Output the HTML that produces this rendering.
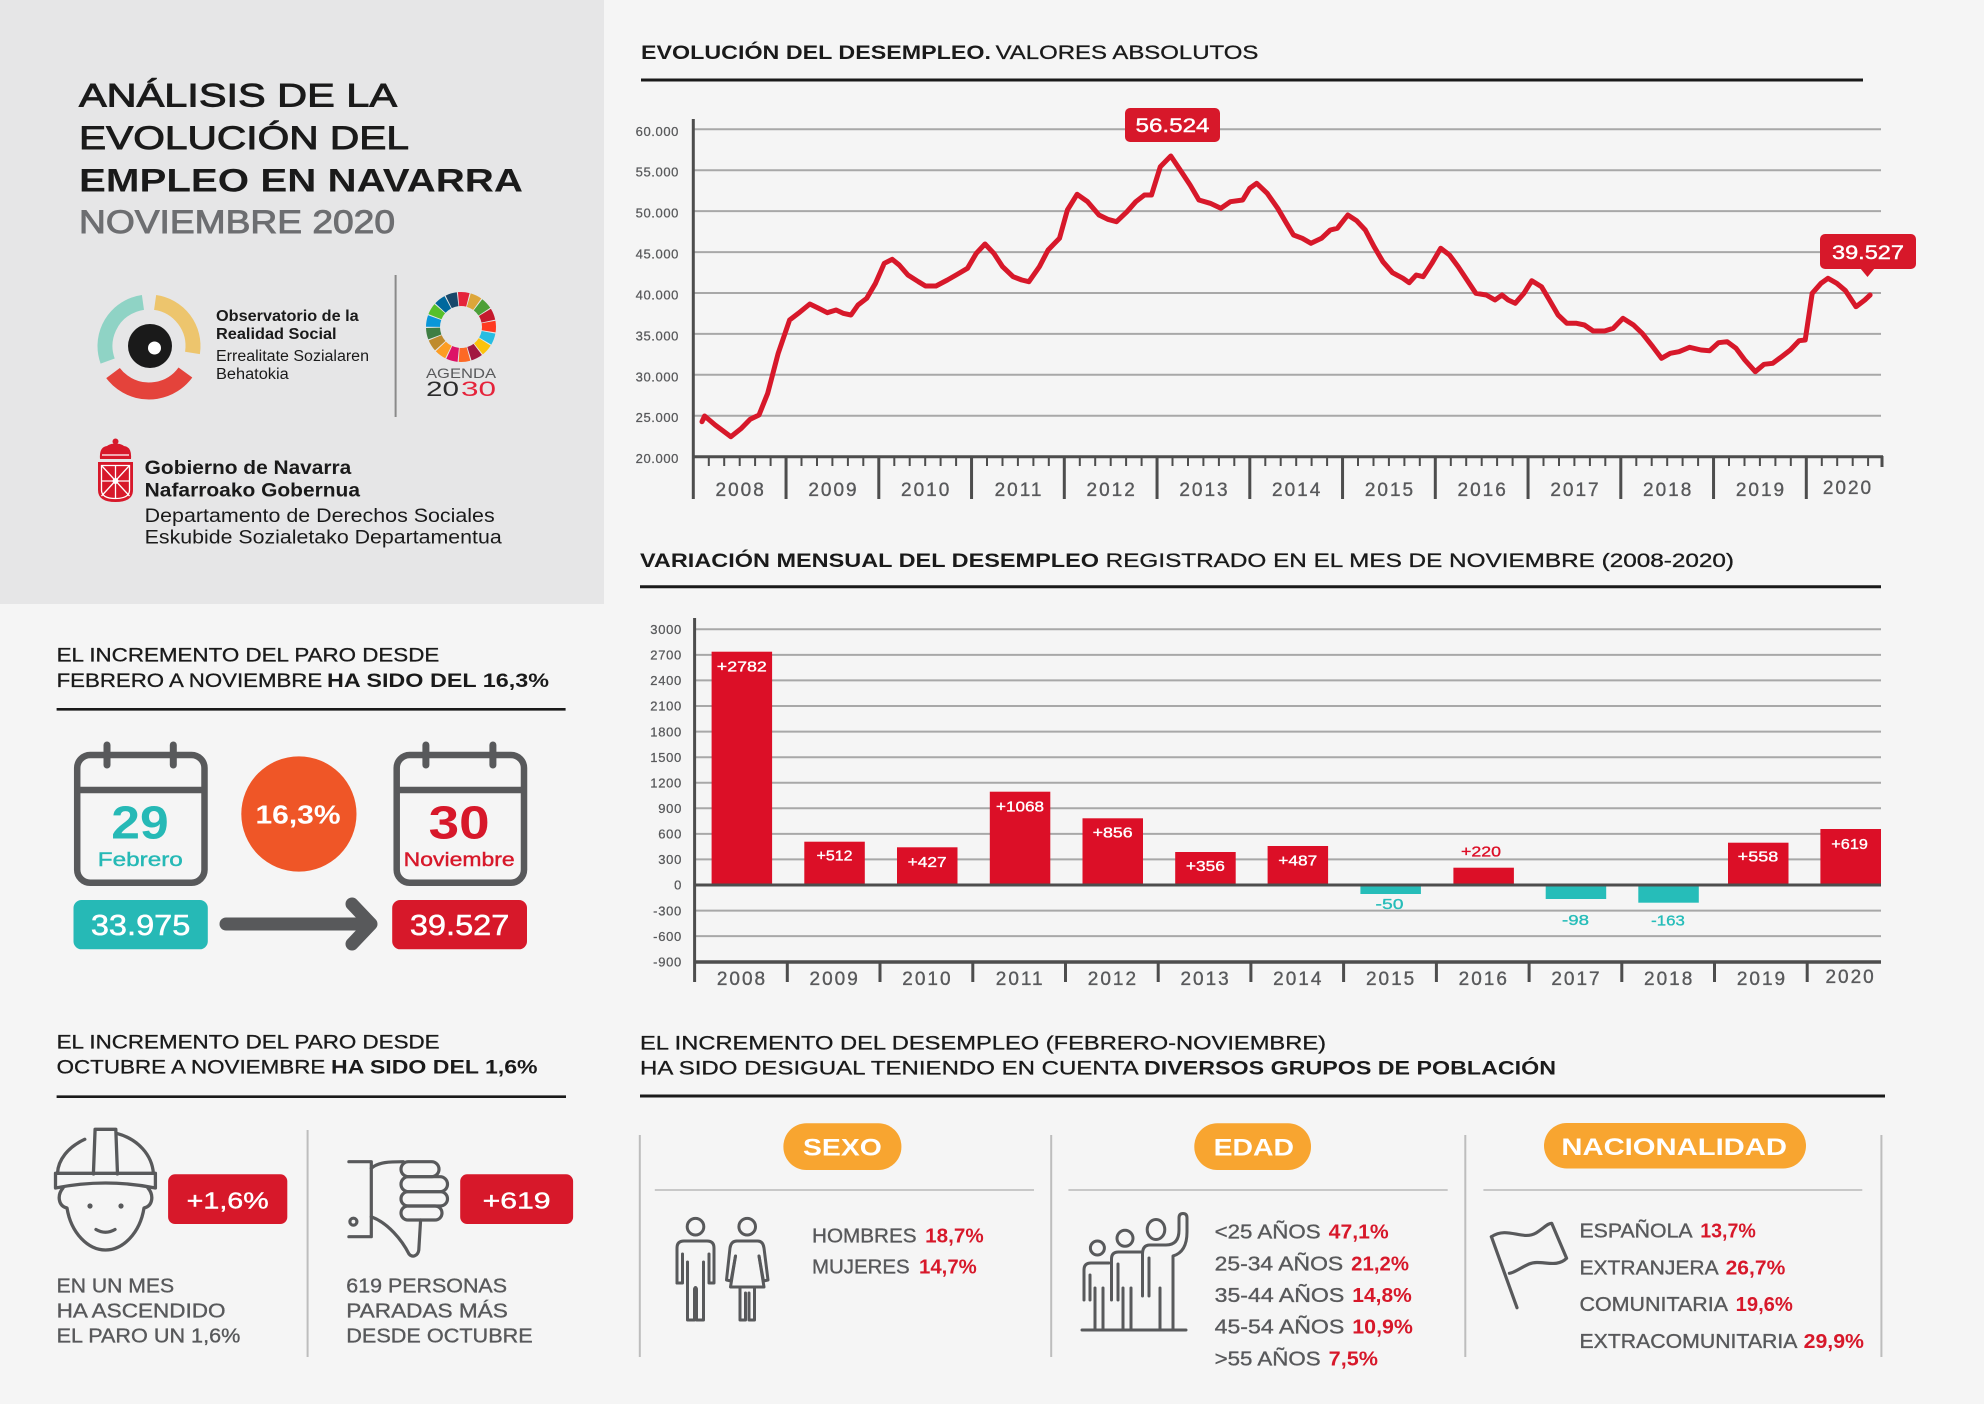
<!DOCTYPE html>
<html><head><meta charset="utf-8">
<style>
html,body{margin:0;padding:0;background:#f5f5f5;}
svg{display:block;font-family:"Liberation Sans",Arial,sans-serif;}
</style></head>
<body>
<svg width="1984" height="1404" viewBox="0 0 1984 1404" xmlns="http://www.w3.org/2000/svg">
<rect x="0" y="0" width="1984" height="1404" fill="#f5f5f5"/>
<rect x="0" y="0" width="604" height="604" fill="#e6e6e7"/>

<!-- HEADER -->
<g fill="#1a1a1a" font-size="32">
<text x="79" y="106.5" stroke="#1a1a1a" stroke-width="0.9" textLength="318" lengthAdjust="spacingAndGlyphs">ANÁLISIS DE LA</text>
<text x="79" y="149" stroke="#1a1a1a" stroke-width="0.9" textLength="330" lengthAdjust="spacingAndGlyphs">EVOLUCIÓN DEL</text>
<text x="79" y="191.5" font-weight="bold" textLength="444" lengthAdjust="spacingAndGlyphs">EMPLEO EN NAVARRA</text>
<text x="79" y="233" fill="#6d6e71" stroke="#6d6e71" stroke-width="0.9" textLength="316" lengthAdjust="spacingAndGlyphs">NOVIEMBRE 2020</text>
</g>

<!-- Observatorio logo -->
<g fill="none" stroke-width="15">
<circle cx="149" cy="346" r="44" stroke="#8fd3c5" stroke-dasharray="78.3 300" transform="rotate(160 149 346)"/>
<circle cx="149" cy="346" r="44" stroke="#edc56d" stroke-dasharray="69.9 300" transform="rotate(278 149 346)"/>
<circle cx="149" cy="346" r="45" stroke="#e4433b" stroke-width="17" stroke-dasharray="84 300" transform="rotate(36 149 346)"/>
</g>
<circle cx="150" cy="346" r="22" fill="#1a1a1a"/>
<circle cx="154.5" cy="348" r="6.5" fill="#fff"/>
<g fill="#1a1a1a" font-size="15.5">
<text x="216" y="321" font-weight="bold" textLength="142.7" lengthAdjust="spacingAndGlyphs">Observatorio de la</text>
<text x="216" y="339" font-weight="bold" textLength="120.6" lengthAdjust="spacingAndGlyphs">Realidad Social</text>
<text x="216" y="361" textLength="153" lengthAdjust="spacingAndGlyphs">Errealitate Sozialaren</text>
<text x="216" y="379" textLength="72.7" lengthAdjust="spacingAndGlyphs">Behatokia</text>
</g>
<line x1="395.6" y1="275" x2="395.6" y2="417" stroke="#8a8a8a" stroke-width="2"/>

<!-- SDG wheel -->
<g fill="none" stroke-width="14">
<circle cx="461" cy="327" r="28" stroke="#E5243B" stroke-dasharray="9.4 167" transform="rotate(-95 461 327)"/>
<circle cx="461" cy="327" r="28" stroke="#DDA63A" stroke-dasharray="9.4 167" transform="rotate(-73.8 461 327)"/>
<circle cx="461" cy="327" r="28" stroke="#4C9F38" stroke-dasharray="9.4 167" transform="rotate(-52.6 461 327)"/>
<circle cx="461" cy="327" r="28" stroke="#C5192D" stroke-dasharray="9.4 167" transform="rotate(-31.4 461 327)"/>
<circle cx="461" cy="327" r="28" stroke="#FF3A21" stroke-dasharray="9.4 167" transform="rotate(-10.3 461 327)"/>
<circle cx="461" cy="327" r="28" stroke="#26BDE2" stroke-dasharray="9.4 167" transform="rotate(10.9 461 327)"/>
<circle cx="461" cy="327" r="28" stroke="#FCC30B" stroke-dasharray="9.4 167" transform="rotate(32.1 461 327)"/>
<circle cx="461" cy="327" r="28" stroke="#A21942" stroke-dasharray="9.4 167" transform="rotate(53.3 461 327)"/>
<circle cx="461" cy="327" r="28" stroke="#FD6925" stroke-dasharray="9.4 167" transform="rotate(74.5 461 327)"/>
<circle cx="461" cy="327" r="28" stroke="#DD1367" stroke-dasharray="9.4 167" transform="rotate(95.6 461 327)"/>
<circle cx="461" cy="327" r="28" stroke="#FD9D24" stroke-dasharray="9.4 167" transform="rotate(116.8 461 327)"/>
<circle cx="461" cy="327" r="28" stroke="#BF8B2E" stroke-dasharray="9.4 167" transform="rotate(138 461 327)"/>
<circle cx="461" cy="327" r="28" stroke="#3F7E44" stroke-dasharray="9.4 167" transform="rotate(159.2 461 327)"/>
<circle cx="461" cy="327" r="28" stroke="#0A97D9" stroke-dasharray="9.4 167" transform="rotate(180.4 461 327)"/>
<circle cx="461" cy="327" r="28" stroke="#56C02B" stroke-dasharray="9.4 167" transform="rotate(201.5 461 327)"/>
<circle cx="461" cy="327" r="28" stroke="#00689D" stroke-dasharray="9.4 167" transform="rotate(222.7 461 327)"/>
<circle cx="461" cy="327" r="28" stroke="#19486A" stroke-dasharray="9.4 167" transform="rotate(243.9 461 327)"/>
</g>
<text x="461" y="378" text-anchor="middle" font-size="14" fill="#58595b" textLength="70" lengthAdjust="spacingAndGlyphs">AGENDA</text>
<text x="426" y="396" font-size="21" fill="#2b2b2b" textLength="33" lengthAdjust="spacingAndGlyphs">20</text>
<text x="461" y="396" font-size="21" fill="#e5243b" textLength="35" lengthAdjust="spacingAndGlyphs">30</text>

<!-- Navarra shield -->
<g fill="#d7182a">
<circle cx="115.5" cy="441.5" r="3"/>
<path d="M100 459 Q99 447 107 446 Q111 443 115.5 444 Q120 443 124 446 Q132 447 131 459 Z"/>
<path d="M98 462 H133 V490 Q133 502 115.5 502 Q98 502 98 490 Z"/>
</g>
<g stroke="#fff" stroke-width="1.3" fill="none">
<path d="M101.5 465.5 H129.5 V490 Q129.5 498.5 115.5 498.5 Q101.5 498.5 101.5 490 Z"/>
<path d="M101.5 465.5 L129.5 496 M129.5 465.5 L101.5 496 M115.5 465.5 V498.5 M101.5 481 H129.5"/>
<path d="M102 455 H129"/>
</g>
<circle cx="115.5" cy="481" r="3" fill="#fff"/>
<g fill="#1a1a1a">
<text x="144.7" y="474" font-size="19" font-weight="bold" textLength="206.6" lengthAdjust="spacingAndGlyphs">Gobierno de Navarra</text>
<text x="144.7" y="496.5" font-size="19" font-weight="bold" textLength="215.3" lengthAdjust="spacingAndGlyphs">Nafarroako Gobernua</text>
<text x="144.7" y="522" font-size="19" textLength="350" lengthAdjust="spacingAndGlyphs">Departamento de Derechos Sociales</text>
<text x="144.7" y="543.5" font-size="19" textLength="357" lengthAdjust="spacingAndGlyphs">Eskubide Sozialetako Departamentua</text>
</g>

<!-- SECTION 2 (Feb-Nov) -->
<g fill="#1a1a1a" font-size="19">
<text x="56.6" y="661.7" stroke="#1a1a1a" stroke-width="0.3" textLength="382.7" lengthAdjust="spacingAndGlyphs">EL INCREMENTO DEL PARO DESDE</text>
<text x="56.6" y="687" stroke="#1a1a1a" stroke-width="0.3" textLength="265.6" lengthAdjust="spacingAndGlyphs">FEBRERO A NOVIEMBRE</text>
<text x="327" y="687" font-weight="bold" textLength="222" lengthAdjust="spacingAndGlyphs">HA SIDO DEL 16,3%</text>
</g>
<line x1="56.6" y1="709.3" x2="565.6" y2="709.3" stroke="#1a1a1a" stroke-width="2.7"/>

<g fill="none" stroke="#58595b" stroke-width="6.5">
<rect x="77.2" y="755" width="127.3" height="127.7" rx="13"/>
<line x1="77.2" y1="790" x2="204.5" y2="790"/>
<rect x="396.7" y="755" width="127.3" height="127.7" rx="13"/>
<line x1="396.7" y1="790" x2="524" y2="790"/>
</g>
<g stroke="#58595b" stroke-width="7" stroke-linecap="round">
<line x1="107" y1="745" x2="107" y2="765"/>
<line x1="173.3" y1="745" x2="173.3" y2="765"/>
<line x1="425.9" y1="745" x2="425.9" y2="765"/>
<line x1="492.9" y1="745" x2="492.9" y2="765"/>
</g>
<text x="140" y="838.3" text-anchor="middle" font-size="46" font-weight="bold" fill="#26b9b6" textLength="57.4" lengthAdjust="spacingAndGlyphs">29</text>
<text x="140.3" y="866" text-anchor="middle" font-size="19" fill="#26b9b6" stroke="#26b9b6" stroke-width="0.4" textLength="85" lengthAdjust="spacingAndGlyphs">Febrero</text>
<text x="459.2" y="838.3" text-anchor="middle" font-size="46" font-weight="bold" fill="#d7182a" textLength="61" lengthAdjust="spacingAndGlyphs">30</text>
<text x="459.2" y="866" text-anchor="middle" font-size="19" fill="#d7182a" stroke="#d7182a" stroke-width="0.4" textLength="111" lengthAdjust="spacingAndGlyphs">Noviembre</text>
<circle cx="298.9" cy="814" r="57.6" fill="#ef5627"/>
<text x="298" y="823.3" text-anchor="middle" font-size="26" font-weight="bold" fill="#fff" textLength="85" lengthAdjust="spacingAndGlyphs">16,3%</text>
<rect x="73.5" y="900" width="134.3" height="49.3" rx="8" fill="#26b9b6"/>
<text x="140.6" y="935" text-anchor="middle" font-size="29" fill="#fff" stroke="#fff" stroke-width="0.5" textLength="99.5" lengthAdjust="spacingAndGlyphs">33.975</text>
<rect x="392.2" y="900" width="134.8" height="49.3" rx="8" fill="#d7182a"/>
<text x="459.6" y="935" text-anchor="middle" font-size="29" fill="#fff" stroke="#fff" stroke-width="0.5" textLength="99.5" lengthAdjust="spacingAndGlyphs">39.527</text>
<g stroke="#58595b" stroke-width="13" stroke-linecap="round" stroke-linejoin="round" fill="none">
<line x1="226" y1="924" x2="366" y2="924"/>
<polyline points="352,904 371,924 352,944"/>
</g>

<!-- SECTION 3 (Oct-Nov) -->
<g fill="#1a1a1a" font-size="19">
<text x="56.6" y="1048.3" stroke="#1a1a1a" stroke-width="0.3" textLength="383" lengthAdjust="spacingAndGlyphs">EL INCREMENTO DEL PARO DESDE</text>
<text x="56.6" y="1073.3" stroke="#1a1a1a" stroke-width="0.3" textLength="268.7" lengthAdjust="spacingAndGlyphs">OCTUBRE A NOVIEMBRE</text>
<text x="331" y="1073.3" font-weight="bold" textLength="206.6" lengthAdjust="spacingAndGlyphs">HA SIDO DEL 1,6%</text>
</g>
<line x1="56.6" y1="1096.7" x2="566" y2="1096.7" stroke="#1a1a1a" stroke-width="2.7"/>
<line x1="307.6" y1="1130" x2="307.6" y2="1357" stroke="#bdbdbd" stroke-width="2"/>

<!-- helmet -->
<g fill="none" stroke="#58595b" stroke-width="3.3" stroke-linejoin="round" stroke-linecap="round">
<path d="M93.4 1174 L95.1 1129.3 L115.8 1129.3 L117.5 1174"/>
<path d="M84.8 1139.3 C68 1147 58 1160 57.5 1173.3"/>
<path d="M116.5 1133.3 C138 1139 152 1155 153.4 1173.3"/>
<path d="M55.5 1173.3 H155.4 V1188 Q105.5 1178 55.5 1188 Z"/>
<path d="M63 1188 C57 1195 58 1206 67 1208 C71 1233 88 1250 105.5 1250 C123 1250 140 1233 144 1208 C153 1206 154 1195 148 1188"/>
<path d="M96 1229.5 Q105.5 1235 115 1229.5"/>
</g>
<circle cx="90" cy="1206" r="2.6" fill="#58595b"/>
<circle cx="121" cy="1206" r="2.6" fill="#58595b"/>
<rect x="168.1" y="1174.3" width="119.2" height="49.7" rx="7" fill="#d7182a"/>
<text x="227.7" y="1208.3" text-anchor="middle" font-size="23" fill="#fff" stroke="#fff" stroke-width="0.4" textLength="82" lengthAdjust="spacingAndGlyphs">+1,6%</text>

<!-- thumbs down -->
<g fill="none" stroke="#58595b" stroke-width="3.2" stroke-linejoin="round" stroke-linecap="round">
<path d="M348.9 1161.7 H371.3 V1236.7 H348.9"/>
<circle cx="353.4" cy="1221.7" r="3.5"/>
<path d="M371.3 1168.3 C378 1162 390 1161.7 403.3 1161.7"/>
<rect x="401" y="1161.7" width="38" height="15" rx="7.5"/>
<rect x="401" y="1176.7" width="46.5" height="15" rx="7.5"/>
<rect x="401" y="1191.7" width="46.5" height="14.3" rx="7.2"/>
<rect x="401" y="1206" width="41" height="14" rx="7"/>
<path d="M371.3 1216.7 C388 1223 402 1240 409 1254 C412 1258 418 1256 418.8 1250 L420.6 1220"/>
</g>
<rect x="460.2" y="1174.3" width="112.9" height="49.7" rx="7" fill="#d7182a"/>
<text x="516.6" y="1208.3" text-anchor="middle" font-size="23" fill="#fff" stroke="#fff" stroke-width="0.4" textLength="68" lengthAdjust="spacingAndGlyphs">+619</text>

<g fill="#58595b" font-size="20" stroke="#58595b" stroke-width="0.35">
<text x="56.6" y="1292.7" textLength="117.5" lengthAdjust="spacingAndGlyphs">EN UN MES</text>
<text x="56.6" y="1317.7" textLength="169" lengthAdjust="spacingAndGlyphs">HA ASCENDIDO</text>
<text x="56.6" y="1342.7" textLength="183.7" lengthAdjust="spacingAndGlyphs">EL PARO UN 1,6%</text>
<text x="346.3" y="1292.7" textLength="160.7" lengthAdjust="spacingAndGlyphs">619 PERSONAS</text>
<text x="346.3" y="1317.7" textLength="161.5" lengthAdjust="spacingAndGlyphs">PARADAS MÁS</text>
<text x="346.3" y="1342.7" textLength="186.4" lengthAdjust="spacingAndGlyphs">DESDE OCTUBRE</text>
</g>

<!-- CHART 1 -->
<text x="641" y="59" font-size="19" font-weight="bold" fill="#1a1a1a" textLength="350" lengthAdjust="spacingAndGlyphs">EVOLUCIÓN DEL DESEMPLEO.</text>
<text x="995.6" y="59" font-size="19" fill="#1a1a1a" stroke="#1a1a1a" stroke-width="0.3" textLength="262.8" lengthAdjust="spacingAndGlyphs">VALORES ABSOLUTOS</text>
<line x1="641" y1="80" x2="1863" y2="80" stroke="#1a1a1a" stroke-width="3"/>

<g stroke="#a8a8a8" stroke-width="2">
<line x1="693" y1="129.3" x2="1881" y2="129.3"/>
<line x1="693" y1="170.2" x2="1881" y2="170.2"/>
<line x1="693" y1="211.1" x2="1881" y2="211.1"/>
<line x1="693" y1="252.1" x2="1881" y2="252.1"/>
<line x1="693" y1="293" x2="1881" y2="293"/>
<line x1="693" y1="333.9" x2="1881" y2="333.9"/>
<line x1="693" y1="374.8" x2="1881" y2="374.8"/>
<line x1="693" y1="415.7" x2="1881" y2="415.7"/>
</g>
<g font-size="13" fill="#58595b" text-anchor="end" letter-spacing="0.6" stroke="#58595b" stroke-width="0.25">
<text x="679" y="135.8">60.000</text>
<text x="679" y="176.7">55.000</text>
<text x="679" y="217.6">50.000</text>
<text x="679" y="258.6">45.000</text>
<text x="679" y="299.5">40.000</text>
<text x="679" y="340.4">35.000</text>
<text x="679" y="381.3">30.000</text>
<text x="679" y="422.2">25.000</text>
<text x="679" y="463.2">20.000</text>
</g>
<line x1="693.3" y1="119" x2="693.3" y2="499" stroke="#4d4d4d" stroke-width="3"/>
<line x1="692" y1="456.7" x2="1883" y2="456.7" stroke="#4d4d4d" stroke-width="3"/>
<path stroke="#4d4d4d" stroke-width="2" d="M708.8 458V466M724.2 458V466M739.7 458V466M755.1 458V466M770.6 458V466M801.5 458V466M817 458V466M832.4 458V466M847.9 458V466M863.3 458V466M894.3 458V466M909.7 458V466M925.2 458V466M940.6 458V466M956.1 458V466M987 458V466M1002.5 458V466M1017.9 458V466M1033.4 458V466M1048.8 458V466M1079.8 458V466M1095.2 458V466M1110.7 458V466M1126.1 458V466M1141.6 458V466M1172.5 458V466M1188 458V466M1203.4 458V466M1218.9 458V466M1234.3 458V466M1265.3 458V466M1280.7 458V466M1296.2 458V466M1311.6 458V466M1327.1 458V466M1358 458V466M1373.5 458V466M1388.9 458V466M1404.4 458V466M1419.8 458V466M1450.8 458V466M1466.2 458V466M1481.7 458V466M1497.1 458V466M1512.6 458V466M1543.5 458V466M1559 458V466M1574.4 458V466M1589.9 458V466M1605.3 458V466M1636.3 458V466M1651.7 458V466M1667.2 458V466M1682.6 458V466M1698.1 458V466M1729 458V466M1744.5 458V466M1759.9 458V466M1775.4 458V466M1790.8 458V466M1821.8 458V466M1837.2 458V466M1852.7 458V466M1868.1 458V466"/>
<path stroke="#4d4d4d" stroke-width="3" d="M786.05 456V499M878.8 456V499M971.55 456V499M1064.3 456V499M1157.05 456V499M1249.8 456V499M1342.55 456V499M1435.3 456V499M1528.05 456V499M1620.8 456V499M1713.55 456V499M1806.3 456V499M1882 456V467"/>
<g font-size="19" fill="#58595b" text-anchor="middle" letter-spacing="2" stroke="#58595b" stroke-width="0.35">
<text x="740.7" y="496">2008</text>
<text x="833.5" y="496">2009</text>
<text x="926.2" y="496">2010</text>
<text x="1019" y="496">2011</text>
<text x="1111.7" y="496">2012</text>
<text x="1204.5" y="496">2013</text>
<text x="1297.2" y="496">2014</text>
<text x="1390" y="496">2015</text>
<text x="1482.7" y="496">2016</text>
<text x="1575.5" y="496">2017</text>
<text x="1668.2" y="496">2018</text>
<text x="1761" y="496">2019</text>
<text x="1848" y="494">2020</text>
</g>
<polyline fill="none" stroke="#d7182a" stroke-width="5" stroke-linejoin="round" stroke-linecap="round" points="702,421.7 704.6,416 715.2,425 730.9,436.7 741.4,428.3 750.2,419.3 759,415 767.7,393.3 778.2,353.3 789.6,320 798.4,313.3 809.8,304 818.6,308.3 827.3,312.7 836.1,310 843.1,313.3 851,315 858,305 866.7,298.3 875.5,283.3 884.3,263.3 892.2,259.3 899.2,265 907.9,275 918.4,281.7 925.5,286 936,286 947.4,280 956.1,275 967.5,268.3 976.3,253.3 985,244 993.8,253.3 1002.6,266.7 1013.1,276.7 1021.8,280 1028.9,281.7 1039.4,266.7 1048.1,250 1059.5,238.3 1067.4,210 1077.1,194.3 1087.6,201.7 1099,215 1107.7,219.3 1116.5,221.7 1127,211.7 1135.8,201.7 1144.5,195 1151.5,195 1160.3,166.7 1170.8,156 1181.3,171.7 1190.1,185 1198.9,200 1210.2,203.3 1220.8,208.3 1230.4,201.7 1242.7,200 1249.7,188.3 1256.7,183.3 1267.2,193.3 1277.7,208.3 1286.5,223.3 1293.5,235 1302.3,238.3 1311,243.3 1321.5,238.3 1330.3,230 1337.3,228.3 1347.8,215 1356.6,220.7 1365.3,230 1374.1,246.7 1382.9,261.7 1392.5,272.7 1403,278.3 1409.2,282.7 1416.2,275 1423.2,276.7 1431.9,263.3 1440.7,248.3 1449.5,255 1458.2,266.7 1467,280 1475.8,293.3 1486.3,295 1495,300 1502,295 1508.2,300 1515.2,303.3 1523.9,293.3 1531.8,280.7 1541.5,286.7 1549.4,300 1558.1,315 1566.9,323.3 1576.5,323.3 1584.4,325 1593.2,331 1604.6,331 1613.3,328.3 1623,318.3 1633.5,325 1642.2,333.3 1652.8,346.7 1661.5,358.3 1670.3,353.3 1679,351.7 1689.6,347.3 1701,350 1709.7,350.7 1718.5,342.7 1727.2,341.7 1736,348.3 1744.8,360 1755.3,371.7 1764,364.3 1772.8,363.3 1781.6,356.7 1790.3,350 1799.1,340.7 1805.2,340 1812.2,293.3 1821,283.3 1828,278.3 1836.8,283.3 1845.5,290.7 1856,306.7 1864.8,300 1870.1,295"/>
<rect x="1125" y="108" width="95" height="34" rx="5" fill="#d7182a"/>
<text x="1172.5" y="132" text-anchor="middle" font-size="19" fill="#fff" stroke="#fff" stroke-width="0.4" textLength="74" lengthAdjust="spacingAndGlyphs">56.524</text>
<rect x="1820" y="234" width="96" height="35" rx="5" fill="#d7182a"/>
<polygon points="1860,268 1875,268 1867.5,277" fill="#d7182a"/>
<text x="1868" y="259" text-anchor="middle" font-size="19" fill="#fff" stroke="#fff" stroke-width="0.4" textLength="72" lengthAdjust="spacingAndGlyphs">39.527</text>

<!-- CHART 2 -->
<text x="640" y="567" font-size="19" font-weight="bold" fill="#1a1a1a" textLength="459" lengthAdjust="spacingAndGlyphs">VARIACIÓN MENSUAL DEL DESEMPLEO</text>
<text x="1105.7" y="567" font-size="19" fill="#1a1a1a" stroke="#1a1a1a" stroke-width="0.3" textLength="628.3" lengthAdjust="spacingAndGlyphs">REGISTRADO EN EL MES DE NOVIEMBRE (2008-2020)</text>
<line x1="640" y1="586.7" x2="1881" y2="586.7" stroke="#1a1a1a" stroke-width="3"/>
<g stroke="#a8a8a8" stroke-width="2">
<line x1="694" y1="629.3" x2="1881" y2="629.3"/>
<line x1="694" y1="654.9" x2="1881" y2="654.9"/>
<line x1="694" y1="680.4" x2="1881" y2="680.4"/>
<line x1="694" y1="706" x2="1881" y2="706"/>
<line x1="694" y1="731.6" x2="1881" y2="731.6"/>
<line x1="694" y1="757.2" x2="1881" y2="757.2"/>
<line x1="694" y1="782.7" x2="1881" y2="782.7"/>
<line x1="694" y1="808.3" x2="1881" y2="808.3"/>
<line x1="694" y1="833.9" x2="1881" y2="833.9"/>
<line x1="694" y1="859.4" x2="1881" y2="859.4"/>
<line x1="694" y1="910.6" x2="1881" y2="910.6"/>
<line x1="694" y1="936.1" x2="1881" y2="936.1"/>
</g>
<g font-size="13" fill="#58595b" text-anchor="end" letter-spacing="0.7" stroke="#58595b" stroke-width="0.25">
<text x="682" y="634">3000</text>
<text x="682" y="659.6">2700</text>
<text x="682" y="685.1">2400</text>
<text x="682" y="710.7">2100</text>
<text x="682" y="736.3">1800</text>
<text x="682" y="761.9">1500</text>
<text x="682" y="787.4">1200</text>
<text x="682" y="813">900</text>
<text x="682" y="838.6">600</text>
<text x="682" y="864.1">300</text>
<text x="682" y="889.7">0</text>
<text x="682" y="915.3">-300</text>
<text x="682" y="940.8">-600</text>
<text x="682" y="966.4">-900</text>
</g>
<!-- bars -->
<g fill="#dc0f27">
<rect x="711.6" y="651.7" width="60.5" height="233.3"/>
<rect x="804.3" y="841.7" width="60.5" height="43.3"/>
<rect x="897" y="847.3" width="60.5" height="37.7"/>
<rect x="989.8" y="791.7" width="60.5" height="93.3"/>
<rect x="1082.5" y="818.3" width="60.5" height="66.7"/>
<rect x="1175.2" y="852" width="60.5" height="33"/>
<rect x="1267.6" y="846" width="60.5" height="39"/>
<rect x="1453.4" y="867.7" width="60.5" height="17.3"/>
<rect x="1728" y="842.7" width="60.5" height="42.3"/>
<rect x="1820.4" y="829" width="60.6" height="56"/>
</g>
<g fill="#26bdb9">
<rect x="1360.4" y="885" width="60.5" height="9"/>
<rect x="1545.7" y="885" width="60.5" height="14"/>
<rect x="1638.3" y="885" width="60.5" height="17.7"/>
</g>
<line x1="694" y1="885" x2="1881" y2="885" stroke="#4d4d4d" stroke-width="3"/>
<line x1="694" y1="962" x2="1881" y2="962" stroke="#4d4d4d" stroke-width="3.5"/>
<line x1="694.6" y1="618" x2="694.6" y2="982" stroke="#4d4d4d" stroke-width="3"/>
<path stroke="#4d4d4d" stroke-width="3" d="M787.3 962V982M880 962V982M972.8 962V982M1065.5 962V982M1158.2 962V982M1250.9 962V982M1343.6 962V982M1436.4 962V982M1529.1 962V982M1621.8 962V982M1714.5 962V982M1807.2 962V982"/>
<g font-size="15" fill="#fff" text-anchor="middle" stroke="#fff" stroke-width="0.35">
<text x="741.8" y="671.7" textLength="50" lengthAdjust="spacingAndGlyphs">+2782</text>
<text x="834.5" y="860.5" textLength="36" lengthAdjust="spacingAndGlyphs">+512</text>
<text x="927.2" y="867" textLength="39" lengthAdjust="spacingAndGlyphs">+427</text>
<text x="1020" y="811.7" textLength="48" lengthAdjust="spacingAndGlyphs">+1068</text>
<text x="1112.7" y="837.7" textLength="40" lengthAdjust="spacingAndGlyphs">+856</text>
<text x="1205.4" y="871" textLength="39" lengthAdjust="spacingAndGlyphs">+356</text>
<text x="1297.8" y="865.7" textLength="39" lengthAdjust="spacingAndGlyphs">+487</text>
<text x="1758" y="861.7" textLength="40.6" lengthAdjust="spacingAndGlyphs">+558</text>
<text x="1849.6" y="849" textLength="36.6" lengthAdjust="spacingAndGlyphs">+619</text>
</g>
<text x="1481" y="856.7" text-anchor="middle" font-size="15" fill="#dc0f27" stroke="#dc0f27" stroke-width="0.35" textLength="40" lengthAdjust="spacingAndGlyphs">+220</text>
<g font-size="15" fill="#26bdb9" text-anchor="middle" stroke="#26bdb9" stroke-width="0.35">
<text x="1389.5" y="909" textLength="28" lengthAdjust="spacingAndGlyphs">-50</text>
<text x="1575.5" y="925" textLength="27" lengthAdjust="spacingAndGlyphs">-98</text>
<text x="1668" y="925.7" textLength="33.6" lengthAdjust="spacingAndGlyphs">-163</text>
</g>
<g font-size="19" fill="#58595b" text-anchor="middle" letter-spacing="2" stroke="#58595b" stroke-width="0.35">
<text x="742" y="985">2008</text>
<text x="834.7" y="985">2009</text>
<text x="927.4" y="985">2010</text>
<text x="1020.2" y="985">2011</text>
<text x="1112.9" y="985">2012</text>
<text x="1205.6" y="985">2013</text>
<text x="1298.3" y="985">2014</text>
<text x="1391.1" y="985">2015</text>
<text x="1483.8" y="985">2016</text>
<text x="1576.5" y="985">2017</text>
<text x="1669.2" y="985">2018</text>
<text x="1762" y="985">2019</text>
<text x="1850.6" y="983">2020</text>
</g>

<!-- BOTTOM RIGHT -->
<g fill="#1a1a1a" font-size="19">
<text x="640" y="1049.3" stroke="#1a1a1a" stroke-width="0.3" textLength="686" lengthAdjust="spacingAndGlyphs">EL INCREMENTO DEL DESEMPLEO (FEBRERO-NOVIEMBRE)</text>
<text x="640" y="1074.3" stroke="#1a1a1a" stroke-width="0.3" textLength="498.6" lengthAdjust="spacingAndGlyphs">HA SIDO DESIGUAL TENIENDO EN CUENTA</text>
<text x="1144" y="1074.3" font-weight="bold" textLength="412" lengthAdjust="spacingAndGlyphs">DIVERSOS GRUPOS DE POBLACIÓN</text>
</g>
<line x1="640" y1="1096" x2="1885" y2="1096" stroke="#1a1a1a" stroke-width="3"/>
<g stroke="#bdbdbd" stroke-width="2">
<line x1="639.8" y1="1135" x2="639.8" y2="1357"/>
<line x1="1051.2" y1="1135" x2="1051.2" y2="1357"/>
<line x1="1465.3" y1="1135" x2="1465.3" y2="1357"/>
<line x1="1881.4" y1="1135" x2="1881.4" y2="1357"/>
</g>
<g stroke="#c8c8c8" stroke-width="2">
<line x1="654.8" y1="1190" x2="1034" y2="1190"/>
<line x1="1068.4" y1="1190" x2="1447.7" y2="1190"/>
<line x1="1483.4" y1="1190" x2="1862.3" y2="1190"/>
</g>
<g fill="#f8a530">
<rect x="783.4" y="1123.3" width="118" height="46.7" rx="23"/>
<rect x="1194.3" y="1123.3" width="116.7" height="46.7" rx="23"/>
<rect x="1544" y="1123" width="262" height="45.5" rx="22.7"/>
</g>
<g fill="#fff" font-size="24" font-weight="bold" text-anchor="middle">
<text x="842.4" y="1155.3" textLength="78.8" lengthAdjust="spacingAndGlyphs">SEXO</text>
<text x="1253.8" y="1155.3" textLength="80.4" lengthAdjust="spacingAndGlyphs">EDAD</text>
<text x="1674.2" y="1155" textLength="225.6" lengthAdjust="spacingAndGlyphs">NACIONALIDAD</text>
</g>

<!-- sexo icons -->
<g fill="none" stroke="#58595b" stroke-width="3" stroke-linejoin="round" stroke-linecap="round">
<circle cx="695.5" cy="1226.7" r="8.3"/>
<path d="M677 1283 V1248 Q677 1241 684 1241 H707 Q714 1241 714 1248 V1283 H709 V1254"/>
<path d="M677 1283 H682.5 V1254"/>
<path d="M687.5 1262 V1320 H694.5 V1289 Q695.5 1286 696.5 1289 V1320 H703.5 V1262"/>
<circle cx="747.2" cy="1226.7" r="8.3"/>
<path d="M737 1241 H757.5 Q763 1241 764 1248 L768 1280 L763.5 1281 L759 1256"/>
<path d="M737 1241 Q731 1241 730 1248 L726.5 1280 L731 1281 L735.5 1256"/>
<path d="M735.5 1256 L730.5 1287 H764 L759 1256"/>
<path d="M740 1287 V1320 H745.5 V1293 M749 1293 V1320 H754.5 V1287"/>
</g>
<g font-size="20">
<text x="812" y="1242.5" fill="#58595b" stroke="#58595b" stroke-width="0.35" textLength="104.6" lengthAdjust="spacingAndGlyphs">HOMBRES</text>
<text x="925.2" y="1242.5" fill="#d7182a" font-weight="bold" textLength="58.5" lengthAdjust="spacingAndGlyphs">18,7%</text>
<text x="812" y="1273.5" fill="#58595b" stroke="#58595b" stroke-width="0.35" textLength="97.7" lengthAdjust="spacingAndGlyphs">MUJERES</text>
<text x="919" y="1273.5" fill="#d7182a" font-weight="bold" textLength="57.8" lengthAdjust="spacingAndGlyphs">14,7%</text>
</g>

<!-- edad icon -->
<g fill="none" stroke="#58595b" stroke-width="3" stroke-linejoin="round" stroke-linecap="round">
<circle cx="1097.4" cy="1248" r="7"/>
<circle cx="1125" cy="1238.3" r="8"/>
<ellipse cx="1156" cy="1229.5" rx="8.8" ry="10"/>
<path d="M1084 1300 V1270 Q1084 1263 1091 1263 H1109"/>
<path d="M1090 1275 V1300"/>
<path d="M1095 1288 V1329 M1103 1288 V1329"/>
<path d="M1111.5 1300 V1259 Q1111.5 1252 1118.5 1252 H1141"/>
<path d="M1118 1264 V1300"/>
<path d="M1123 1288 V1329 M1131 1288 V1329"/>
<path d="M1142.5 1296 V1254 Q1142.5 1245 1150 1245 H1166 Q1179 1245 1179 1230 V1218 Q1179 1213.5 1183 1213.5 Q1187 1213.5 1187 1218 V1232 Q1187 1252 1173 1256 V1329"/>
<path d="M1149 1258 V1296"/>
<path d="M1160 1288 V1329"/>
<path d="M1082 1330 H1186"/>
</g>
<g font-size="20">
<g fill="#58595b" stroke="#58595b" stroke-width="0.35">
<text x="1214.6" y="1238.7" textLength="106" lengthAdjust="spacingAndGlyphs">&lt;25 AÑOS</text>
<text x="1214.6" y="1270.3" textLength="128.6" lengthAdjust="spacingAndGlyphs">25-34 AÑOS</text>
<text x="1214.6" y="1302" textLength="129.7" lengthAdjust="spacingAndGlyphs">35-44 AÑOS</text>
<text x="1214.6" y="1333.7" textLength="129.7" lengthAdjust="spacingAndGlyphs">45-54 AÑOS</text>
<text x="1214.6" y="1365.3" textLength="106" lengthAdjust="spacingAndGlyphs">&gt;55 AÑOS</text>
</g>
<text x="1328.7" y="1238.7" fill="#d7182a" font-weight="bold" textLength="60" lengthAdjust="spacingAndGlyphs">47,1%</text>
<text x="1351.2" y="1270.3" fill="#d7182a" font-weight="bold" textLength="57.8" lengthAdjust="spacingAndGlyphs">21,2%</text>
<text x="1352.3" y="1302" fill="#d7182a" font-weight="bold" textLength="59.5" lengthAdjust="spacingAndGlyphs">14,8%</text>
<text x="1352.3" y="1333.7" fill="#d7182a" font-weight="bold" textLength="60.6" lengthAdjust="spacingAndGlyphs">10,9%</text>
<text x="1328.7" y="1365.3" fill="#d7182a" font-weight="bold" textLength="49.3" lengthAdjust="spacingAndGlyphs">7,5%</text>
</g>

<!-- flag icon -->
<g fill="none" stroke="#58595b" stroke-width="3.2" stroke-linejoin="round" stroke-linecap="round">
<path d="M1491.4 1236.7 L1517 1307.7"/>
<path d="M1491.4 1236.7 C1508 1226 1522 1241 1536 1233 C1544 1228 1548 1223 1551.7 1223.3 L1566.6 1258.3 C1556 1269 1541 1259 1529 1264 C1520 1268 1514 1273 1509.4 1273.3"/>
</g>
<g font-size="20">
<g fill="#58595b" stroke="#58595b" stroke-width="0.35">
<text x="1579.5" y="1237.7" textLength="113.1" lengthAdjust="spacingAndGlyphs">ESPAÑOLA</text>
<text x="1579.5" y="1274.5" textLength="139.1" lengthAdjust="spacingAndGlyphs">EXTRANJERA</text>
<text x="1579.5" y="1311.2" textLength="148.5" lengthAdjust="spacingAndGlyphs">COMUNITARIA</text>
<text x="1579.5" y="1348" textLength="217.9" lengthAdjust="spacingAndGlyphs">EXTRACOMUNITARIA</text>
</g>
<text x="1700.2" y="1237.7" fill="#d7182a" font-weight="bold" textLength="55.6" lengthAdjust="spacingAndGlyphs">13,7%</text>
<text x="1725.6" y="1274.5" fill="#d7182a" font-weight="bold" textLength="59.7" lengthAdjust="spacingAndGlyphs">26,7%</text>
<text x="1735.6" y="1311.2" fill="#d7182a" font-weight="bold" textLength="57.3" lengthAdjust="spacingAndGlyphs">19,6%</text>
<text x="1803.6" y="1348" fill="#d7182a" font-weight="bold" textLength="60.4" lengthAdjust="spacingAndGlyphs">29,9%</text>
</g>
</svg>
</body></html>
